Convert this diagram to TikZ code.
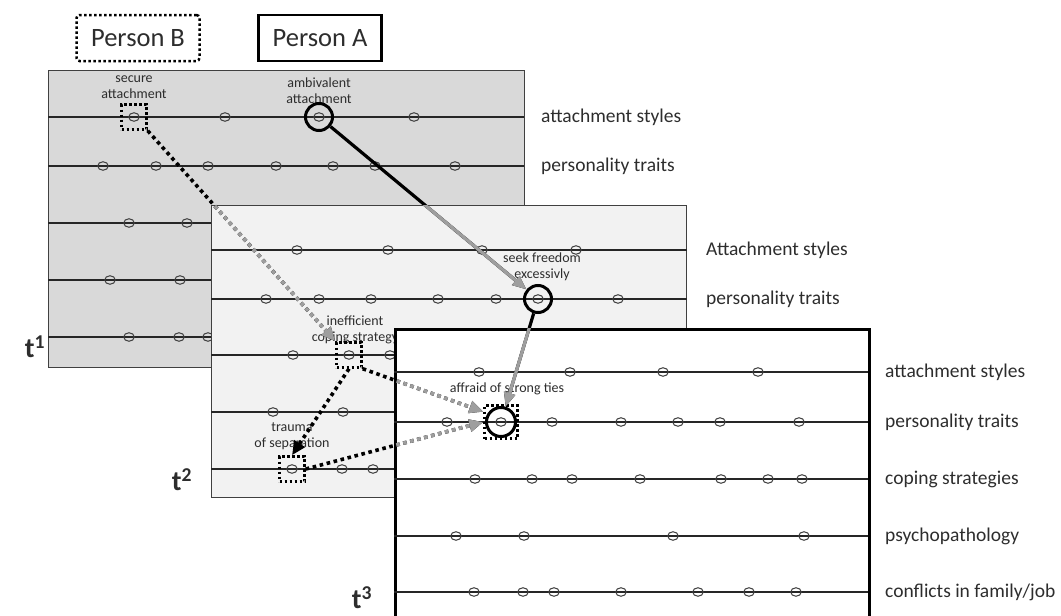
\documentclass[tikz,border=0pt]{standalone}
\usepackage{fontspec}
\setmainfont{Carlito}
\usepackage{tikz}
\usetikzlibrary{arrows.meta,positioning,shapes.geometric}
\definecolor{paneldark}{RGB}{217,217,217}
\definecolor{panellight}{RGB}{242,242,242}
\definecolor{rimgray}{RGB}{64,64,64}
\definecolor{fadegray}{RGB}{158,158,158}
\definecolor{inkgray}{RGB}{45,45,45}
\tikzset{
  panelbox/.style={draw=rimgray, line width=1.3pt, anchor=north west, inner sep=0pt},
  trait/.style={ellipse, draw=rimgray, line width=1pt, minimum width=10.5pt, minimum height=8.5pt, inner sep=0pt},
  pickA/.style={circle, draw=black, line width=3pt, minimum size=27pt, inner sep=0pt},
  pickB/.style={draw=black, line width=2.5pt, dash pattern=on 2.5pt off 2.5pt, minimum size=25pt, inner sep=0pt},
  axisline/.style={draw=black!85, line width=1.1pt},
  rowlabel/.style={anchor=west, inner sep=0pt, font=\fontsize{19.5}{21}\selectfont, text=inkgray},
  tag/.style={align=center, inner sep=0pt, font=\fontsize{14}{16}\selectfont, text=inkgray},
  personbox/.style={minimum width=123pt, minimum height=46pt, inner sep=0pt, font=\fontsize{26.5}{28}\selectfont, text=inkgray},
  timelabel/.style={inner sep=0pt, font=\bfseries\fontsize{28}{30}\selectfont, text=inkgray},
  flowA/.style={-{Triangle[length=14pt,width=11pt]}, line width=3.2pt},
  flowB/.style={-{Triangle[length=14pt,width=12pt]}, line width=3.6pt, dash pattern=on 3.6pt off 3.6pt}
}

\begin{document}
\begin{tikzpicture}[x=1pt, y=-1pt]
\useasboundingbox (0,0) rectangle (1061,616);

\node[personbox, draw, line width=2.5pt, dash pattern=on 2.5pt off 2.5pt, rounded corners=3pt] (personB) at (138,38) {Person B};
\node[personbox, draw, line width=2.6pt] (personA) at (320,38) {Person A};

\node[panelbox, fill=paneldark, minimum width=476pt, minimum height=297pt] (stage1) at (48,70) {};
\foreach \y/\xs in {117/{134,225,319,414}, 166/{103,156,208,276,333,375,455}, 223/{129,187}, 280/{110,180}, 337/{129,179,208}}{
  \draw[axisline] (48,\y) -- (524,\y);
  \foreach \x in \xs \node[trait] (o1-\y-\x) at (\x,\y) {};
}
\node[rowlabel] (lab1a) at (541,117) {attachment styles};
\node[rowlabel] (lab1b) at (541,166) {personality traits};
\node[timelabel] (time1) at (35,347) {t\textsuperscript{1}};
\node[tag] (tagsecure) at (134,87) {secure\\attachment};
\node[tag] (tagambiv) at (319,91) {ambivalent\\attachment};
\node[pickB] (secure) at (134,117) {};
\node[pickA] (ambiv) at (319,117) {};

\node[panelbox, fill=panellight, minimum width=475pt, minimum height=292pt] (stage2) at (211,205) {};
\foreach \y/\xs in {250/{297,388,482,576}, 299/{266,319,371,438,496,538,618}, 355/{293,349,390}, 412/{273,343}, 469/{292,342,373}}{
  \draw[axisline] (211,\y) -- (687,\y);
  \foreach \x in \xs \node[trait] (o2-\y-\x) at (\x,\y) {};
}
\node[rowlabel] (lab2a) at (706,250) {Attachment styles};
\node[rowlabel] (lab2b) at (706,299) {personality traits};
\node[timelabel] (time2) at (182,480) {t\textsuperscript{2}};
\node[tag] (tagseek) at (542,267) {seek freedom\\excessivly};
\node[tag] (tagineff) at (355,330) {inefficient\\coping strategy};
\node[tag] (tagtrauma) at (292,436) {trauma\\of separation};
\node[pickA] (seek) at (538,299) {};
\node[pickB] (ineff) at (349,355) {};
\node[pickB] (trauma) at (292,469) {};

\node[panelbox, draw=black, line width=3pt, fill=white, minimum width=474pt, minimum height=300pt] (stage3) at (394,328) {};
\foreach \y/\xs in {372/{479,570,663,758}, 422/{447,501,552,621,678,720,799}, 479/{475,532,572,640,721,768,802}, 536/{456,524,673,804}, 592/{474,523,554,621,698,749,796}}{
  \draw[axisline] (394,\y) -- (868,\y);
  \foreach \x in \xs \node[trait] (o3-\y-\x) at (\x,\y) {};
}
\node[rowlabel] (lab3a) at (885,372) {attachment styles};
\node[rowlabel] (lab3b) at (885,422) {personality traits};
\node[rowlabel] (lab3c) at (885,479) {coping strategies};
\node[rowlabel] (lab3d) at (885,536) {psychopathology};
\node[rowlabel] (lab3e) at (885,592) {conflicts in family/job};
\node[timelabel] (time3) at (362,598) {t\textsuperscript{3}};
\node[tag] (tagafraid) at (507,389) {affraid of strong ties};
\node[pickA, minimum size=29pt] (afraidA) at (501,422) {};
\node[pickB, minimum size=33pt] (afraidB) at (501,422) {};

\draw[flowB] (secure.south east) -- (ineff.north west);
\draw[flowA] (ambiv) -- (seek);
\draw[flowA] (seek) -- (afraidA);
\draw[flowB] (ineff.south) -- (trauma.north);
\draw[flowB] (ineff.south east) -- (afraidB.150);
\draw[flowB] (trauma.east) -- (afraidB.west);
\begin{scope}
  \clip (stage2.north west) rectangle (stage2.south east);
  \draw[flowB, fadegray] (secure.south east) -- (ineff.north west);
  \draw[flowA, fadegray] (ambiv) -- (seek);
\end{scope}
\begin{scope}
  \clip (stage3.north west) rectangle (stage3.south east);
  \draw[flowA, fadegray] (seek) -- (afraidA);
  \draw[flowB, fadegray] (ineff.south east) -- (afraidB.150);
  \draw[flowB, fadegray] (trauma.east) -- (afraidB.west);
\end{scope}
\end{tikzpicture}
\end{document}
